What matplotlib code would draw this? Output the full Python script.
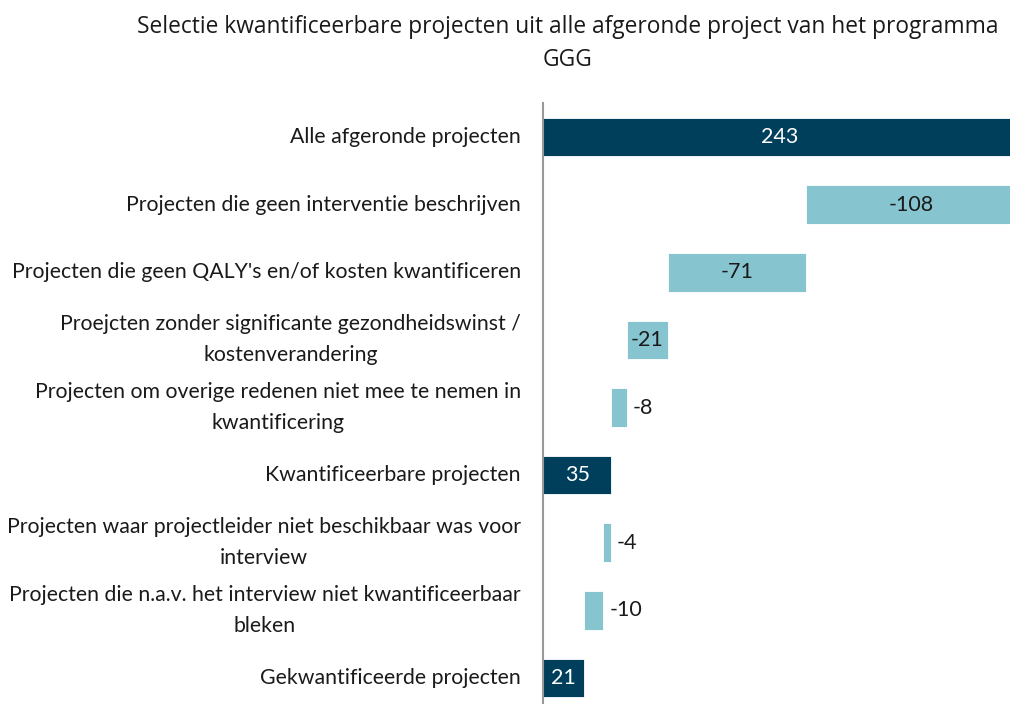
import matplotlib.pyplot as plt

# data
labels = [
    "Alle afgeronde projecten",
    "Projecten die geen interventie beschrijven",
    "Projecten die geen QALY's en/of kosten kwantificeren",
    "Proejcten zonder significante gezondheidswinst /\nkostenverandering",
    "Projecten om overige redenen niet mee te nemen in\nkwantificering",
    "Kwantificeerbare projecten",
    "Projecten waar projectleider niet beschikbaar was voor\ninterview",
    "Projecten die n.a.v. het interview niet kwantificeerbaar\nbleken",
    "Gekwantificeerde projecten",
]
values = [243, -108, -71, -21, -8, 35, -4, -10, 21]
is_total = [True, False, False, False, False, True, False, False, True]

dark = "#003f5c"
light = "#86c4cf"

fig = plt.figure(figsize=(10.10, 7.04), dpi=100)
# axes run a little past the right and bottom edges, as in the original
ax = fig.add_axes([543 / 1010, -7.8 / 704, 474 / 1010, 608.6 / 704])

running = 0
lefts, widths = [], []
for v, tot in zip(values, is_total):
    if tot:
        lefts.append(0)
        widths.append(v)
        running = v
    else:
        running = running + v
        lefts.append(running)
        widths.append(-v)

y = list(range(len(values)))
colors = [dark if t else light for t in is_total]
ax.barh(y, widths, left=lefts, height=0.57, color=colors,
        edgecolor="white", linewidth=0.6)

for yi, l, w, v, tot in zip(y, lefts, widths, values, is_total):
    if w >= 18:
        ax.text(l + w / 2, yi, str(v), ha="center", va="center",
                fontsize=15.5, color="white" if tot else "#1a1a1a",
                family="Lato")
    else:
        ax.text(l + w + 3, yi, str(v), ha="left", va="center",
                fontsize=15.5, color="#1a1a1a", family="Lato")

ax.set_xlim(0, 243)
ax.set_ylim(len(values) - 0.5, -0.5)
ax.set_yticks(y)
ax.set_yticklabels(labels, fontsize=15.3, family="Lato", va="center",
                   multialignment="center", linespacing=1.7, color="#1a1a1a")
ax.tick_params(axis="y", length=0, pad=16)
ax.set_xticks([])
for s in ["top", "right", "bottom"]:
    ax.spines[s].set_visible(False)
ax.spines["left"].set_color("#999999")
ax.spines["left"].set_linewidth(1.5)

fig.text(568 / 1010, 1 - 27 / 704,
         "Selectie kwantificeerbare projecten uit alle afgeronde project van het programma",
         ha="center", va="center", fontsize=16.4, family="Open Sans", color="#1a1a1a")
fig.text(568 / 1010, 1 - 60 / 704, "GGG",
         ha="center", va="center", fontsize=16.4, family="Open Sans", color="#1a1a1a")

fig.savefig("out.png", dpi=100)
